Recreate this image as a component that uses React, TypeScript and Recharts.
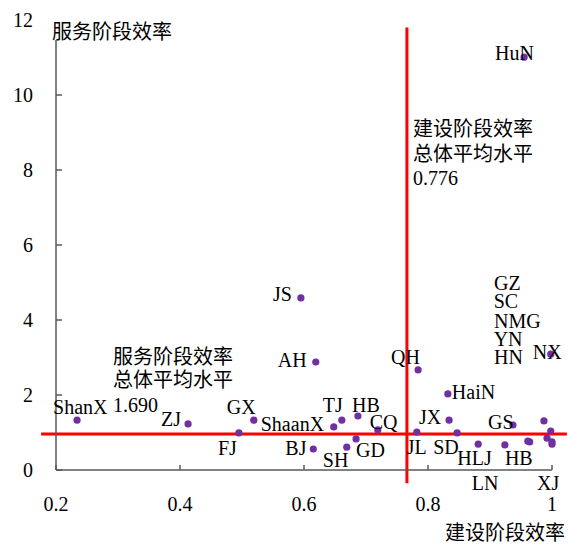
import { ScatterChart, Scatter, XAxis, YAxis, ReferenceLine } from "recharts";

const FONT = "'Liberation Serif', 'Noto Sans CJK SC', serif";

// provinces, construction-stage efficiency (x), service-stage efficiency (y)
const provinces = [
  "HuN", "JS", "AH", "QH", "NX", "HaiN", "JX", "JL", "SD", "HLJ",
  "GS", "HB", "GZ", "SC", "NMG", "YN", "HN", "LN", "XJ", "ShanX",
  "ZJ", "GX", "FJ", "ShaanX", "TJ", "HB", "CQ", "BJ", "SH", "GD"
];
const constructionEff = [
  0.955, 0.595, 0.619, 0.784, 0.998, 0.832, 0.834, 0.782, 0.847, 0.881,
  0.937, 0.924, 0.987, 0.998, 0.992, 0.964, 1.0, 0.961, 1.0, 0.234,
  0.413, 0.519, 0.495, 0.648, 0.661, 0.687, 0.719, 0.615, 0.669, 0.684
];
const serviceEff = [
  11.01, 4.59, 2.88, 2.67, 3.09, 2.03, 1.33, 1.01, 0.99, 0.69,
  1.2, 0.67, 1.31, 1.04, 0.85, 0.75, 0.69, 0.77, 0.75, 1.33,
  1.23, 1.33, 0.99, 1.15, 1.33, 1.44, 1.07, 0.56, 0.61, 0.83
];

// label placement relative to its dot (px)
const labelOffsets: [number, number][] = [
  [-29, -4], [-28, -4], [-38, -2], [-27, -13], [-18, -2], [4, -2], [-30, -3], [-10, 15], [-24, 14], [-21, 14],
  [-25, -3], [0, 13], [-50, -138], [-57, -130], [-53, -117], [-36, -103], [-58, -87], [-56, 42], [-15, 41], [-24, -13],
  [-27, -5], [-27, -13], [-21, 15], [-73, -3], [-19, -15], [-6, -11], [-8, -8], [-28, -1], [-24, 13], [0, 11]
];

const xTicks = [0.2, 0.4, 0.6, 0.8, 1];
const yTicks = [0, 2, 4, 6, 8, 10, 12];

const constructionAvgLine = 0.766;
const serviceAvgLine = 0.96;
const constructionAvgText = "0.776";
const serviceAvgText = "1.690";

const data = provinces.map((name, i) => ({
  name,
  x: constructionEff[i],
  y: serviceEff[i],
  dx: labelOffsets[i][0],
  dy: labelOffsets[i][1]
}));

function Dot(props: any) {
  const { cx, cy, payload } = props;
  return (
    <g>
      <circle cx={cx} cy={cy} r={3.6} fill="#7030A0" />
      <text
        x={cx + payload.dx}
        y={cy + payload.dy}
        dominantBaseline="central"
        fontSize={20}
        fontFamily={FONT}
        fill="#000"
      >
        {payload.name}
      </text>
    </g>
  );
}

const tickStyle = { fill: "#000", fontSize: 20, fontFamily: FONT };

export default function App() {
  return (
    <div style={{ position: "absolute", left: 0, top: 0, width: 568, height: 544, background: "#fff" }}>
      <ScatterChart width={568} height={544} margin={{ top: 20, right: 16, bottom: 34, left: 0 }}>
        <XAxis
          type="number"
          dataKey="x"
          domain={[0.2, 1]}
          ticks={xTicks}
          interval={0}
          tickSize={-5}
          tickMargin={32}
          height={40}
          stroke="#595959"
          strokeWidth={1.5}
          tick={tickStyle}
          tickFormatter={(v: number) => String(v)}
        />
        <YAxis
          type="number"
          dataKey="y"
          domain={[0, 12]}
          ticks={yTicks}
          interval={0}
          width={56}
          tickSize={-6}
          tickMargin={29}
          stroke="#595959"
          strokeWidth={1.5}
          tick={tickStyle}
        />
        <ReferenceLine
          segment={[{ x: constructionAvgLine, y: -0.35 }, { x: constructionAvgLine, y: 11.8 }]}
          stroke="#ff0000"
          strokeWidth={3}
          ifOverflow="visible"
        />
        <ReferenceLine
          segment={[{ x: 0.176, y: serviceAvgLine }, { x: 1.024, y: serviceAvgLine }]}
          stroke="#ff0000"
          strokeWidth={3}
          ifOverflow="visible"
        />
        <Scatter data={data} shape={Dot} isAnimationActive={false} />
      </ScatterChart>
      <svg
        width={568}
        height={544}
        style={{ position: "absolute", left: 0, top: 0, pointerEvents: "none" }}
        fontFamily={FONT}
        fontSize={20}
      >
        <rect x={50} y={14} width={126} height={26} fill="#fff" />
        <text x={52} y={32} dominantBaseline="central">服务阶段效率</text>
        <text x={445} y={533} dominantBaseline="central">建设阶段效率</text>
        <text x={413} y={129} dominantBaseline="central">建设阶段效率</text>
        <text x={413} y={154} dominantBaseline="central">总体平均水平</text>
        <text x={413} y={178} dominantBaseline="central">{constructionAvgText}</text>
        <text x={113} y={357} dominantBaseline="central">服务阶段效率</text>
        <text x={113} y={380} dominantBaseline="central">总体平均水平</text>
        <text x={113} y={405} dominantBaseline="central">{serviceAvgText}</text>
      </svg>
    </div>
  );
}
